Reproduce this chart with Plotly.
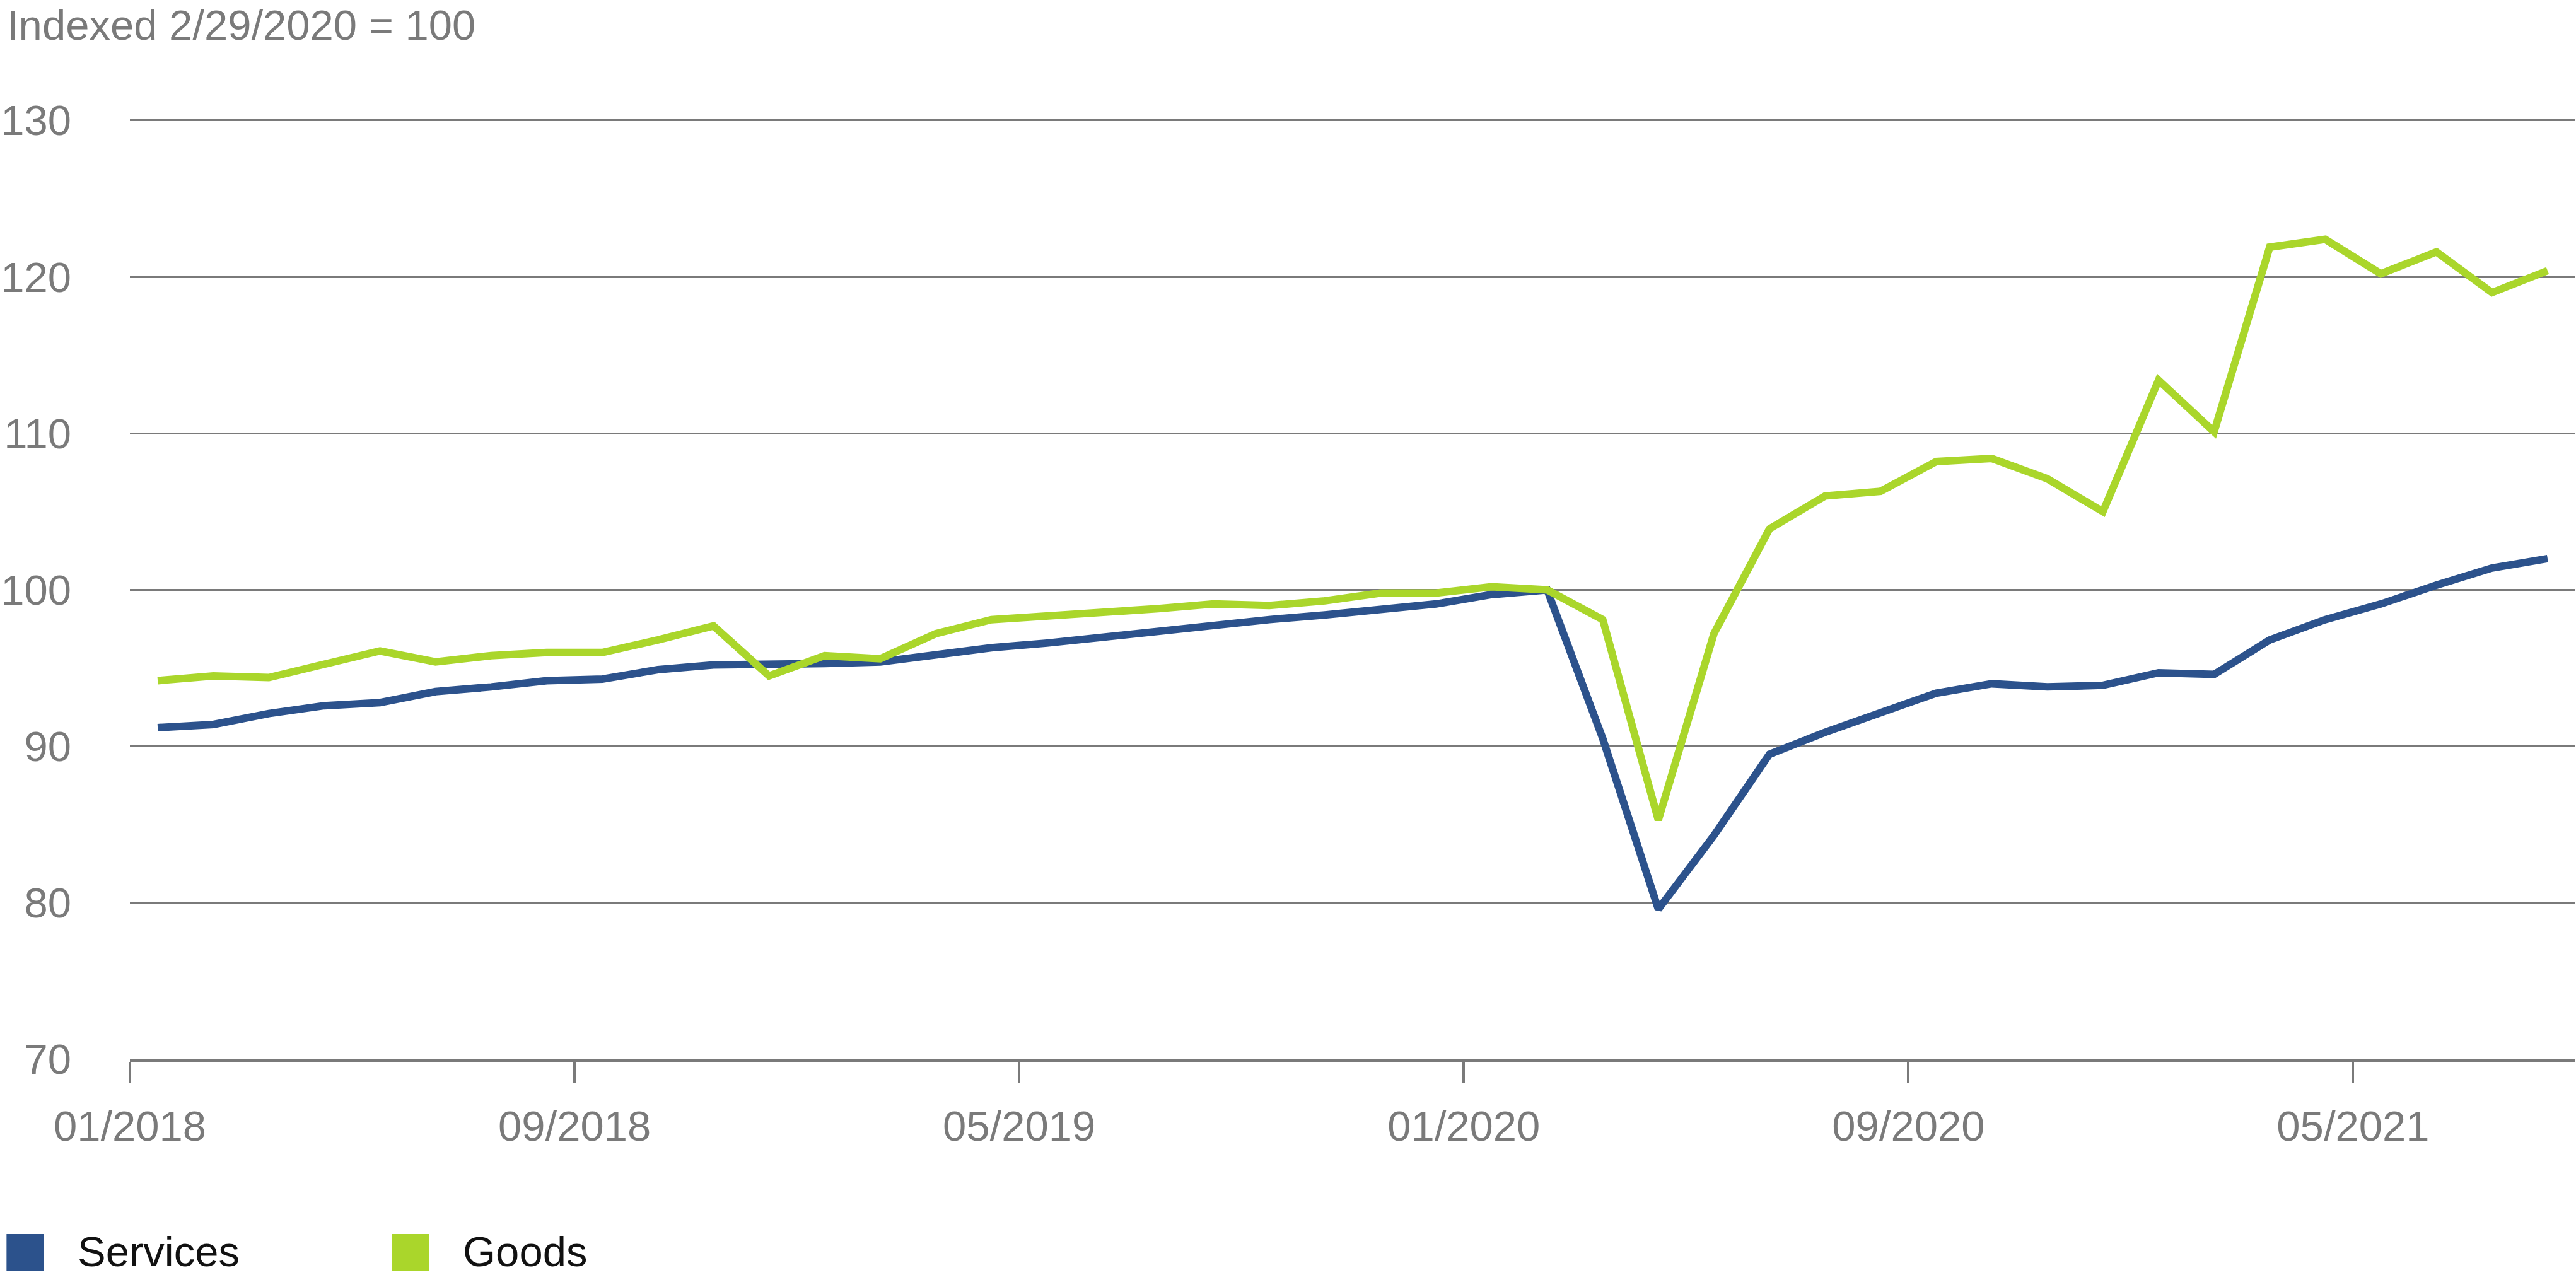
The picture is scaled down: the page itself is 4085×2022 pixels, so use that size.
import plotly.graph_objects as go

# ---- data (monthly, indexed 2/29/2020 = 100) ----
months = [
    "2018-01", "2018-02", "2018-03", "2018-04", "2018-05", "2018-06", "2018-07", "2018-08",
    "2018-09", "2018-10", "2018-11", "2018-12", "2019-01", "2019-02", "2019-03", "2019-04",
    "2019-05", "2019-06", "2019-07", "2019-08", "2019-09", "2019-10", "2019-11", "2019-12",
    "2020-01", "2020-02", "2020-03", "2020-04", "2020-05", "2020-06", "2020-07", "2020-08",
    "2020-09", "2020-10", "2020-11", "2020-12", "2021-01", "2021-02", "2021-03", "2021-04",
    "2021-05", "2021-06", "2021-07", "2021-08",
]
services = [
    91.2, 91.4, 92.1, 92.6, 92.8, 93.5, 93.8, 94.2, 94.3, 94.9, 95.2, 95.2,
    95.3, 95.4, 95.9, 96.3, 96.6, 97.0, 97.4, 97.8, 98.1, 98.4, 98.8, 99.1,
    99.7, 100.0, 90.5, 79.6, 84.3, 89.5, 90.9, 92.1, 93.4, 94.0, 93.8, 93.9,
    94.7, 94.6, 96.8, 98.1, 99.1, 100.3, 101.4, 102.0,
]
goods = [
    94.2, 94.5, 94.4, 95.2, 96.1, 95.4, 95.8, 96.0, 96.0, 96.8, 97.7, 94.5,
    95.8, 95.6, 97.2, 98.1, 98.3, 98.5, 98.8, 99.1, 99.0, 99.3, 99.8, 99.8,
    100.2, 100.0, 98.1, 85.3, 97.2, 103.9, 106.0, 106.3, 108.2, 108.4, 107.1, 105.0,
    113.4, 110.1, 121.9, 122.4, 120.2, 121.6, 119.0, 120.4,
]
tick_months = ["2018-01", "2018-09", "2019-05", "2020-01", "2020-09", "2021-05"]
tick_labels = ["01/2018", "09/2018", "05/2019", "01/2020", "09/2020", "05/2021"]
y_ticks = [70, 80, 90, 100, 110, 120, 130]
series_names = ["Services", "Goods"]
colors = ["#2C528C", "#AAD62B"]

# positions: month index, data plotted mid-month, ticks at month start
x_pos = [i + 0.5 for i in range(len(months))]
tick_pos = [months.index(m) for m in tick_months]

W, H = 4085, 2022
L, R, T, B = 199, 1, 189, 342
PW, PH = W - L - R, H - T - B
Y_MIN, Y_MAX = 70, 130.08

def px(xp):
    return (xp - L) / PW

def py(yp):
    return (H - B - yp) / PH

GRAY = "#7a7a7a"
FONT = "Liberation Sans, Arial, sans-serif"

fig = go.Figure()
for name, vals, col in zip(series_names, [services, goods], colors):
    fig.add_trace(go.Scatter(
        x=x_pos, y=vals, mode="lines", name=name,
        line=dict(color=col, width=12),
        showlegend=False, hoverinfo="skip",
    ))

shapes = []
annotations = []
# title
annotations.append(dict(
    text="Indexed 2/29/2020 = 100", xref="paper", yref="paper",
    x=px(2), y=py(0), xanchor="left", yanchor="top", showarrow=False,
    font=dict(family=FONT, size=67, color=GRAY),
))
# legend (squares + labels)
leg_items = [(3, 118), (615, 730)]
for (sx, tx), name, col in zip(leg_items, series_names, colors):
    shapes.append(dict(
        type="rect", xref="paper", yref="paper",
        x0=px(sx), x1=px(sx + 59), y0=py(2015), y1=py(1957),
        fillcolor=col, line=dict(width=0),
    ))
    annotations.append(dict(
        text=name, xref="paper", yref="paper",
        x=px(tx - 4), y=py(1984), xanchor="left", yanchor="middle", showarrow=False,
        font=dict(family=FONT, size=67, color="#111111"),
    ))

fig.update_layout(
    width=W, height=H,
    margin=dict(l=L, r=R, t=T, b=B, pad=0),
    paper_bgcolor="white", plot_bgcolor="white",
    shapes=shapes, annotations=annotations,
    xaxis=dict(
        range=[0, len(months)], tickmode="array", tickvals=tick_pos, ticktext=tick_labels,
        showgrid=False, zeroline=False, showline=True, linecolor=GRAY, linewidth=4,
        ticks="outside", ticklen=33, tickwidth=4, tickcolor=GRAY,
        tickfont=dict(family=FONT, size=67, color=GRAY), ticklabelstandoff=12,
    ),
    yaxis=dict(
        range=[Y_MIN, Y_MAX], tickmode="array", tickvals=y_ticks,
        showgrid=True, gridcolor=GRAY, gridwidth=3, zeroline=False, showline=False,
        ticks="", tickfont=dict(family=FONT, size=67, color=GRAY), ticklabelstandoff=92,
    ),
)

fig.write_html("out.html")
